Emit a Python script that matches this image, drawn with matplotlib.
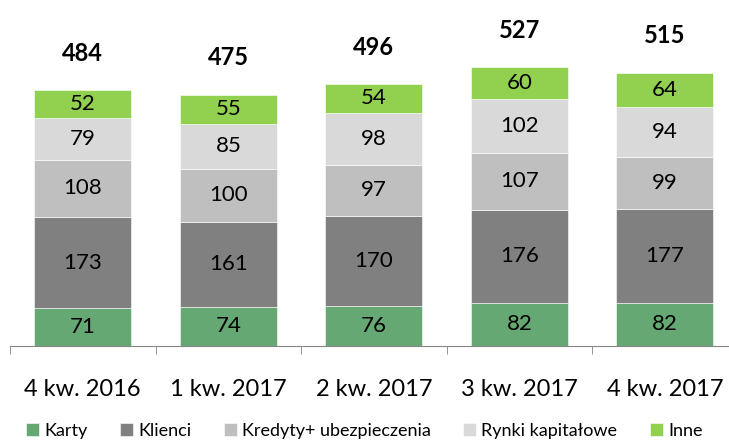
import matplotlib.pyplot as plt
import numpy as np

plt.rcParams['font.family'] = ['Lato', 'DejaVu Sans']

categories = ['4 kw. 2016', '1 kw. 2017', '2 kw. 2017', '3 kw. 2017', '4 kw. 2017']
series_names = ['Karty', 'Klienci', 'Kredyty+ ubezpieczenia', 'Rynki kapitałowe', 'Inne']
karty = [71, 74, 76, 82, 82]
klienci = [173, 161, 170, 176, 177]
kredyty = [108, 100, 97, 107, 99]
rynki = [79, 85, 98, 102, 94]
inne = [52, 55, 54, 60, 64]
totals = [484, 475, 496, 527, 515]

colors = ['#66a873', '#808080', '#bfbfbf', '#d9d9d9', '#92d050']
series = [karty, klienci, kredyty, rynki, inne]

fig = plt.figure(figsize=(7.29, 4.42), dpi=100)
ax = fig.add_axes([10 / 729, 96 / 442, 719 / 729, 346 / 442])

x = np.arange(len(categories))
bottom = np.zeros(len(categories))
for name, vals, col in zip(series_names, series, colors):
    ax.bar(x, vals, 0.667, bottom=bottom, color=col, label=name,
           edgecolor='white', linewidth=0.4)
    for xi, b, v in zip(x, bottom, vals):
        ax.text(xi, b + v / 2, str(v), ha='center', va='center', fontsize=16, color='black')
    bottom += np.array(vals)

for xi, b, t in zip(x, bottom, totals):
    ax.text(xi, b + 70, str(t), ha='center', va='center', fontsize=17,
            fontweight='bold', color='black')

ax.set_xlim(-0.5, 4.44)
ax.set_ylim(0, 654)
ax.set_yticks([])
for s in ['top', 'right', 'left']:
    ax.spines[s].set_visible(False)
ax.spines['bottom'].set_color('#868686')

ax.set_xticks(x)
ax.set_xticklabels(categories, fontsize=17)
ax.tick_params(axis='x', which='major', length=0, pad=24)
ax.set_xticks(np.arange(-0.5, 4.0, 1.0), minor=True)
ax.tick_params(axis='x', which='minor', length=6, color='#868686')

fig.legend(loc='lower center', bbox_to_anchor=(0.5, -0.03), ncol=5, frameon=False,
           fontsize=13, handlelength=0.7, handleheight=0.7, handletextpad=0.3,
           columnspacing=1.8)

fig.savefig('out.png', dpi=100)
